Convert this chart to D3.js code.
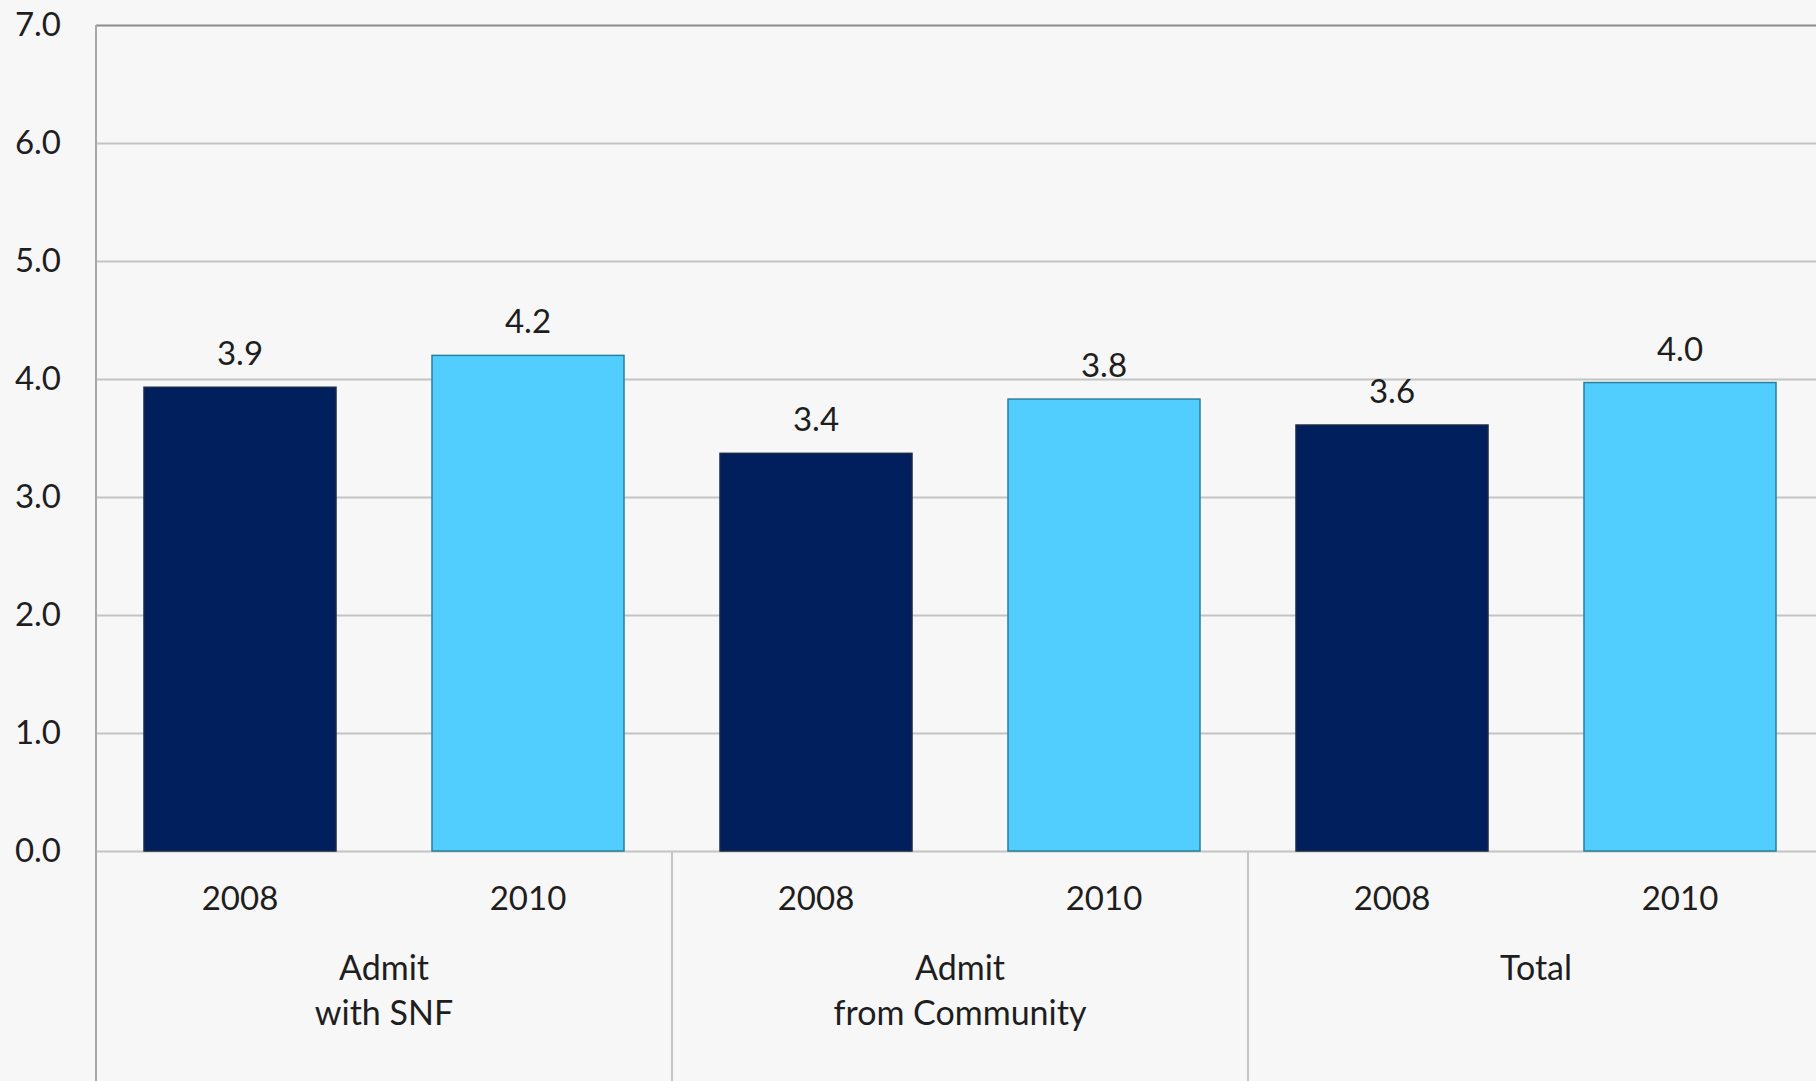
<!DOCTYPE html>
<html><head><meta charset="utf-8">
<script src="https://cdn.jsdelivr.net/npm/d3@7"></script>
<style>
html,body{margin:0;padding:0;background:#f7f7f7;}
svg{display:block;}
text{font-family:Lato,"Open Sans",sans-serif;fill:#1e1e1e;}
</style></head>
<body>
<svg id="chart" width="1816" height="1081"></svg>
<script>
const groups = ["Admit\nwith SNF", "Admit\nfrom Community", "Total"];
const years = ["2008", "2010"];
const values2008 = [3.93, 3.37, 3.61];
const values2010 = [4.20, 3.83, 3.97];
const labels2008 = ["3.9", "3.4", "3.6"];
const labels2010 = ["4.2", "3.8", "4.0"];
const yTicks = [0, 1, 2, 3, 4, 5, 6, 7];
const colors = {"2008": "#001f5c", "2010": "#52cefe"};
const strokes = {"2008": "#1a2a40", "2010": "#2a7f9a"};

(function () {
const svg = d3.select("#chart");
const W = 1816, H = 1081;
const mLeft = 96, mTop = 25, mBottom = 851;
const plotRight = mLeft + 6 * 288;

svg.append("rect").attr("width", W).attr("height", H).attr("fill", "#f7f7f7");

const y = d3.scaleLinear().domain([0, 7]).range([mBottom, mTop]);

const rows = [];
groups.forEach((g, i) => {
  rows.push({group: g, gi: i, year: years[0], value: values2008[i], label: labels2008[i]});
  rows.push({group: g, gi: i, year: years[1], value: values2010[i], label: labels2010[i]});
});
const keys = rows.map((d, i) => i);
const x = d3.scaleBand().domain(keys).range([mLeft, plotRight]).paddingInner(1/3).paddingOuter(1/6);
const step = x.step();

// gridlines
svg.append("g").selectAll("line").data(yTicks).join("line")
  .attr("x1", mLeft).attr("x2", plotRight)
  .attr("y1", d => Math.round(y(d)) + 0.5).attr("y2", d => Math.round(y(d)) + 0.5)
  .attr("stroke", d => d === 7 ? "#8a8a8a" : "#c4c4c4")
  .attr("stroke-width", 2);

// y axis labels
const yAxis = d3.axisLeft(y).tickValues(yTicks).tickFormat(d3.format(".1f")).tickSize(0).tickPadding(35);
const ya = svg.append("g").attr("transform", `translate(${mLeft},0)`).call(yAxis);
ya.select(".domain").remove();
ya.selectAll("text").attr("font-size", 33).attr("font-family", "Lato, 'Open Sans', sans-serif").attr("fill", "#1e1e1e");

// left axis line & separators
svg.append("line").attr("x1", mLeft).attr("x2", mLeft).attr("y1", mTop).attr("y2", H)
  .attr("stroke", "#a8a8a8").attr("stroke-width", 2);
[1, 2].forEach(k => {
  const sx = mLeft + k * 2 * step;
  svg.append("line").attr("x1", sx).attr("x2", sx).attr("y1", mBottom).attr("y2", H)
    .attr("stroke", "#c4c4c4").attr("stroke-width", 2);
});

// bars
svg.append("g").selectAll("rect").data(rows).join("rect")
  .attr("x", (d, i) => x(i)).attr("width", x.bandwidth())
  .attr("y", d => y(d.value)).attr("height", d => y(0) - y(d.value))
  .attr("fill", d => colors[d.year])
  .attr("stroke", d => strokes[d.year]).attr("stroke-width", 1.5);

// value labels
svg.append("g").selectAll("text").data(rows).join("text")
  .attr("x", (d, i) => x(i) + x.bandwidth() / 2)
  .attr("y", d => y(d.value) - 22)
  .attr("text-anchor", "middle").attr("font-size", 33)
  .text(d => d.label);

// year labels
svg.append("g").selectAll("text").data(rows).join("text")
  .attr("x", (d, i) => x(i) + x.bandwidth() / 2)
  .attr("y", 910)
  .attr("text-anchor", "middle").attr("font-size", 33)
  .text(d => d.year);

// group labels
groups.forEach((g, i) => {
  const cx = mLeft + (i * 2 + 1) * step;
  const lines = g.split("\n");
  const t = svg.append("text").attr("text-anchor", "middle").attr("font-size", 34);
  lines.forEach((ln, j) => {
    t.append("tspan").attr("x", cx).attr("y", 980 + j * 45).text(ln);
  });
});
})();
</script>
</body></html>
